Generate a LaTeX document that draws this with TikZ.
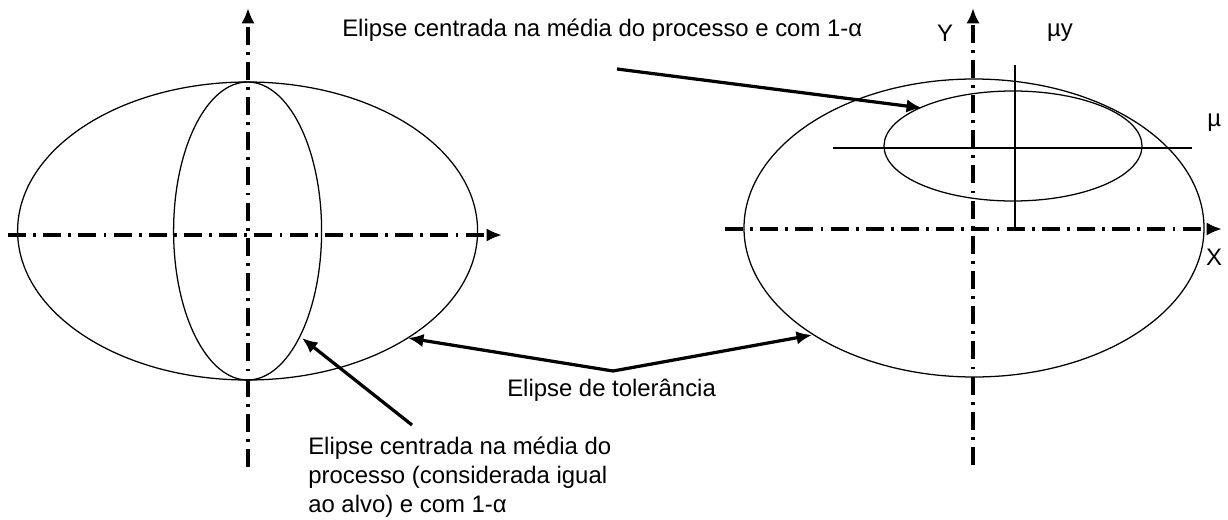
\documentclass[tikz,border=0pt]{standalone}
\usepackage{fontspec}
\setmainfont{Liberation Sans}
\usetikzlibrary{arrows.meta}
\begin{document}
\begin{tikzpicture}[
    eixo/.style={line width=2.4pt, dash pattern=on 0.45cm off 0.18cm on 0.07cm off 0.18cm, -{Latex[length=11pt,width=9.5pt]}},
    seta/.style={line width=2.3pt, -{Latex[length=11pt,width=9.5pt]}},
    fina/.style={line width=0.9pt},
    rotulo/.style={inner sep=0pt, font=\fontsize{17}{20.6}\selectfont}
  ]
  \useasboundingbox (0,0) rectangle (30.7,12.975);
  % left ellipses and axes
  \coordinate (L) at (6.19,7.2);
  \draw[fina] (L) ellipse (5.75 and 3.725);
  \draw[fina] (L) ellipse (1.85 and 3.725);
  \draw[eixo] (0.2,7.1) -- (12.55,7.1);
  \draw[eixo] (6.2,1.3) -- (6.2,12.775);
  % right ellipses and axes
  \coordinate (R) at (24.35,7.275);
  \coordinate (M) at (25.325,9.325);
  \draw[fina] (R) ellipse (5.75 and 3.725);
  \draw[fina] (M) ellipse (3.225 and 1.375);
  \draw[fina] (25.375,11.35) -- (25.375,7.25);
  \draw[fina] (20.825,9.275) -- (29.8,9.275);
  \draw[eixo] (18.125,7.25) -- (30.55,7.25);
  \draw[eixo] (24.325,1.35) -- (24.325,12.775);
  \node[rotulo] (Y) at (23.625,12.15) {Y};
  \node[rotulo] (my) at (26.5,12.15) {µy};
  \node[rotulo, anchor=west] (mx) at (30.175,9.9) {µ};
  \node[rotulo] (X) at (30.35,6.55) {X};
  % labels and arrows
  \node[rotulo, anchor=west] (topo) at (8.55,12.225) {Elipse centrada na média do processo e com 1-α};
  \coordinate (s1) at (15.425,11.25);
  \coordinate (t1) at (23.05,10.275);
  \draw[seta] (s1) -- (t1);
  \node[rotulo, anchor=west] (tol) at (12.675,3.225) {Elipse de tolerância};
  \coordinate (v) at (15.325,3.7);
  \coordinate (tL) at (10.2,4.525);
  \coordinate (tR) at (20.3,4.6);
  \draw[seta] (v) -- (tL);
  \draw[seta] (v) -- (tR);
  \node[rotulo, anchor=north west, align=left] (baixo) at (7.7,2.05) {Elipse centrada na média do\\processo (considerada igual\\ao alvo) e com 1-α};
  \coordinate (s2) at (10.3,2.35);
  \coordinate (t2) at (7.55,4.525);
  \draw[seta] (s2) -- (t2);
\end{tikzpicture}
\end{document}
